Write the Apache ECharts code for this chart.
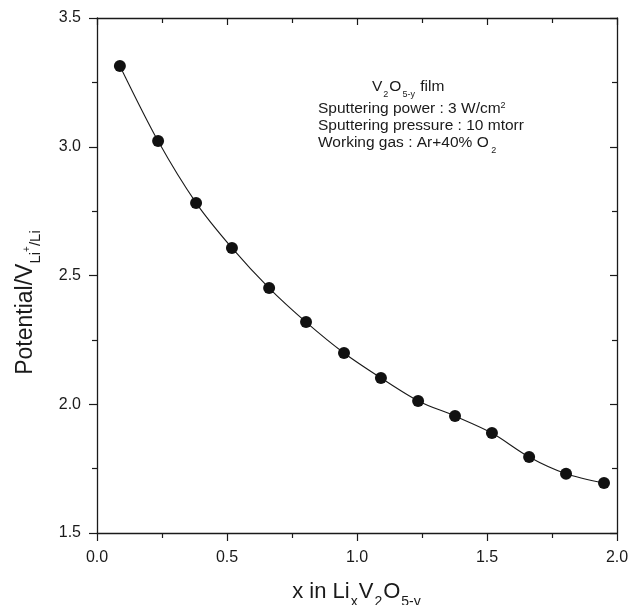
<!DOCTYPE html>
<html>
<head>
<meta charset="utf-8">
<script src="https://cdn.jsdelivr.net/npm/echarts@6/dist/echarts.min.js"></script>
<style>html,body{margin:0;padding:0;background:#fff}#c{width:630px;height:605px}</style>
</head>
<body>
<div id="c"></div>
<script>
var xValues = [0.088, 0.235, 0.381, 0.519, 0.662, 0.804, 0.950, 1.092, 1.235, 1.377, 1.519, 1.662, 1.804, 1.950];
var potential = [3.314, 3.022, 2.782, 2.607, 2.451, 2.319, 2.199, 2.102, 2.013, 1.954, 1.888, 1.795, 1.730, 1.694];
var annotationLines = ['Sputtering power : 3 W/cm', 'Sputtering pressure : 10 mtorr', 'Working gas : Ar+40% O'];

var chart = echarts.init(document.getElementById('c'));
var data = xValues.map(function (x, i) { return [x, potential[i]]; });
var FONT = 'Liberation Sans, Arial, sans-serif';
var ink = '#1a1a1a';
var axisLine = { show: true, onZero: false, lineStyle: { color: ink, width: 1.3 } };

function fmt(v) { return v.toFixed(1); }

chart.setOption({
  animation: false,
  backgroundColor: '#fff',
  grid: { left: 97, right: 13, top: 18, bottom: 72, containLabel: false, outerBoundsMode: 'none' },
  xAxis: [{
    type: 'value', min: 0, max: 2, interval: 0.5, position: 'bottom',
    axisLine: axisLine,
    axisTick: { show: true, inside: false, length: 8, lineStyle: { color: ink, width: 1.2 } },
    minorTick: { show: true, splitNumber: 2, length: 5, lineStyle: { color: ink, width: 1.2 } },
    splitLine: { show: false },
    axisLabel: { formatter: fmt, color: ink, fontSize: 16, fontFamily: FONT, margin: 17 },
    name: '{m|x in Li}{s|x}{m|V}{s|2}{m|O}{s|5-y}',
    nameLocation: 'middle', nameGap: 44,
    nameTextStyle: {
      rich: {
        m: { fontSize: 22, fontFamily: FONT, color: ink, lineHeight: 26, verticalAlign: 'bottom' },
        s: { fontSize: 14, fontFamily: FONT, color: ink, lineHeight: 26, verticalAlign: 'bottom', padding: [0, 1, -6, 1] }
      }
    }
  }, {
    type: 'value', min: 0, max: 2, interval: 0.5, position: 'top',
    axisLine: axisLine,
    axisTick: { show: true, inside: true, length: 7, lineStyle: { color: ink, width: 1.2 } },
    minorTick: { show: true, splitNumber: 2, length: 5, lineStyle: { color: ink, width: 1.2 } },
    splitLine: { show: false }, axisLabel: { show: false }
  }],
  yAxis: [{
    type: 'value', min: 1.5, max: 3.5, interval: 0.5, position: 'left',
    axisLine: axisLine,
    axisTick: { show: true, inside: false, length: 8, lineStyle: { color: ink, width: 1.2 } },
    minorTick: { show: true, splitNumber: 2, length: 5, lineStyle: { color: ink, width: 1.2 } },
    splitLine: { show: false },
    axisLabel: { formatter: fmt, color: ink, fontSize: 16, fontFamily: FONT, margin: 16 },
    name: '{m|Potential/V}{s|Li}{p|+}{s|/Li}',
    nameLocation: 'middle', nameGap: 60, nameRotate: 90,
    nameTextStyle: {
      padding: [0, 54, 0, 0],
      rich: {
        m: { fontSize: 23, fontFamily: FONT, color: ink, lineHeight: 26, verticalAlign: 'bottom' },
        s: { fontSize: 15, fontFamily: FONT, color: ink, lineHeight: 26, verticalAlign: 'bottom', padding: [0, 0, -6, 0] },
        p: { fontSize: 10, fontFamily: FONT, color: ink, lineHeight: 26, verticalAlign: 'bottom', padding: [0, 0, 5, 0] }
      }
    }
  }, {
    type: 'value', min: 1.5, max: 3.5, interval: 0.5, position: 'right',
    axisLine: axisLine,
    axisTick: { show: true, inside: true, length: 7, lineStyle: { color: ink, width: 1.2 } },
    minorTick: { show: true, splitNumber: 2, length: 5, lineStyle: { color: ink, width: 1.2 } },
    splitLine: { show: false }, axisLabel: { show: false }
  }],
  graphic: [{
    type: 'text', left: 372, top: 79,
    style: {
      text: '{m|V}{s|2}{m|O}{s|5-y}{m| film}',
      rich: {
        m: { fontSize: 15.5, fontFamily: FONT, fill: ink, lineHeight: 17, verticalAlign: 'bottom' },
        s: { fontSize: 9, fontFamily: FONT, fill: ink, lineHeight: 17, verticalAlign: 'bottom', padding: [0, 1, -4, 1] }
      }
    }
  }, {
    type: 'text', left: 318, top: 101,
    style: {
      text: '{m|' + annotationLines[0] + '}{p|2}\n{m|' + annotationLines[1] + '}\n{m|' + annotationLines[2] + '}{s| 2}',
      rich: {
        m: { fontSize: 15.5, fontFamily: FONT, fill: ink, lineHeight: 17, verticalAlign: 'bottom' },
        s: { fontSize: 9, fontFamily: FONT, fill: ink, lineHeight: 17, verticalAlign: 'bottom', padding: [0, 0, -4, 0] },
        p: { fontSize: 9, fontFamily: FONT, fill: ink, lineHeight: 17, verticalAlign: 'bottom', padding: [0, 0, 7, 0] }
      }
    }
  }],
  series: [{
    type: 'line', data: data, smooth: 0.3,
    symbol: 'circle', symbolSize: 12,
    itemStyle: { color: '#111' },
    lineStyle: { color: ink, width: 1.1 }
  }]
});
</script>
</body>
</html>
